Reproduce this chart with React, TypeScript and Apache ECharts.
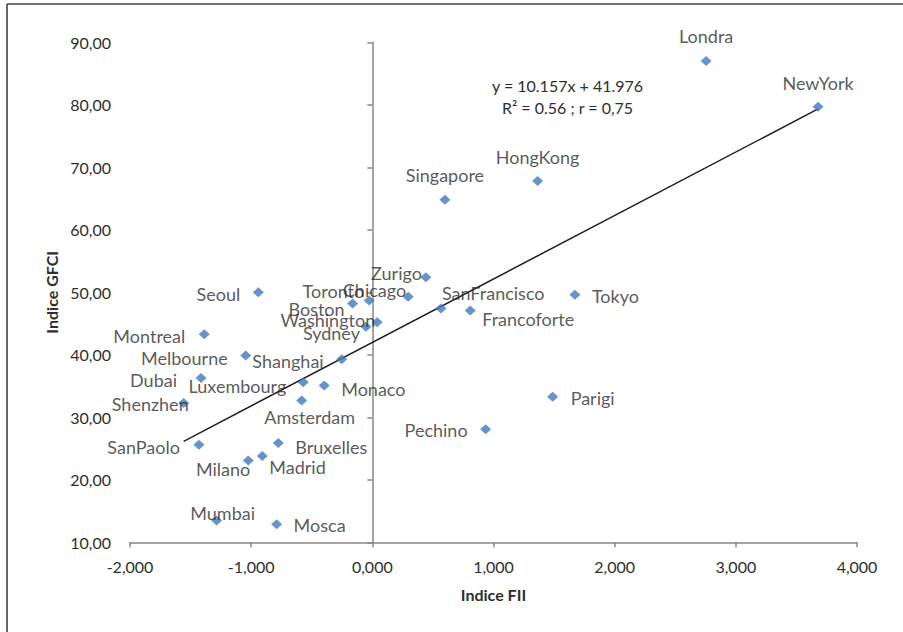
import React, { useEffect, useRef } from "react";
import * as echarts from "echarts";

const cities = [
  "Londra", "NewYork", "HongKong", "Singapore", "Zurigo", "Seoul", "Boston", "Toronto",
  "Chicago", "SanFrancisco", "Francoforte", "Tokyo", "Washington", "Sydney", "Montreal",
  "Melbourne", "Shanghai", "Dubai", "Luxembourg", "Monaco", "Amsterdam", "Shenzhen",
  "SanPaolo", "Bruxelles", "Milano", "Madrid", "Mumbai", "Mosca", "Parigi", "Pechino",
];
const fiiValues = [
  2.755, 3.679, 1.364, 0.599, 0.442, -0.941, -0.163, -0.026,
  0.296, 0.566, 0.808, 1.672, 0.040, -0.053, -1.387,
  -1.045, -0.253, -1.414, -0.570, -0.397, -0.583, -1.557,
  -1.431, -0.776, -1.024, -0.908, -1.285, -0.790, 1.488, 0.935,
];
const gfciValues = [
  87.0, 79.7, 67.8, 64.8, 52.4, 50.0, 48.2, 48.7,
  49.3, 47.4, 47.1, 49.6, 45.2, 44.5, 43.3,
  39.9, 39.3, 36.3, 35.6, 35.1, 32.7, 32.3,
  25.6, 25.9, 23.1, 23.8, 13.5, 12.9, 33.3, 28.1,
];
const trendSlope = 10.157;
const trendIntercept = 41.976;
const equationLines = ["y = 10.157x + 41.976", "R² = 0.56 ; r = 0,75"];
const xTitle = "Indice FII";
const yTitle = "Indice GFCI";

// label placement: [align, dx, dy] relative to the marker centre
const labelPlacement: Record<string, [string, number, number]> = {
  Londra: ["center", 0, -25],
  NewYork: ["center", 0, -24],
  HongKong: ["center", 0, -24],
  Singapore: ["center", 0, -25],
  Zurigo: ["right", -4, -4],
  Seoul: ["right", -18, 2],
  Boston: ["right", -8, 5],
  Toronto: ["right", -5, -9],
  Chicago: ["right", -2, -7],
  SanFrancisco: ["left", 1, -16],
  Francoforte: ["left", 12, 9],
  Tokyo: ["left", 17, 1],
  Washington: ["right", -2, -2],
  Sydney: ["right", -6, 6],
  Montreal: ["right", -19, 2],
  Melbourne: ["right", -18, 3],
  Shanghai: ["right", -18, 2],
  Dubai: ["right", -24, 2],
  Luxembourg: ["right", -17, 4],
  Monaco: ["left", 17, 4],
  Amsterdam: ["center", 8, 17],
  Shenzhen: ["right", 5, 1],
  SanPaolo: ["right", -19, 2],
  Bruxelles: ["left", 17, 4],
  Milano: ["right", 2, 9],
  Madrid: ["left", 7, 11],
  Mumbai: ["center", 6, -7],
  Mosca: ["left", 17, 1],
  Parigi: ["left", 18, 1],
  Pechino: ["right", -18, 1],
};

const FONT = "Lato";
const TEXT = "#2e2e2e";
const AXIS = "#878787";

export default function App() {
  const ref = useRef<HTMLDivElement>(null);
  useEffect(() => {
    if (!ref.current) return;
    const chart = echarts.init(ref.current, undefined, { renderer: "svg" });
    const xMin = Math.min(...fiiValues);
    const xMax = Math.max(...fiiValues);
    const points = cities.map((c, i) => {
      const p = labelPlacement[c] || ["center", 0, -20];
      return {
        name: c,
        value: [fiiValues[i], gfciValues[i]],
        label: { align: p[0], offset: [p[1], p[2]] },
      };
    });
    chart.setOption({
      animation: false,
      backgroundColor: "#ffffff",
      grid: { left: 130, right: 46, top: 42.3, bottom: 89.7, containLabel: false, outerBoundsMode: "none" },
      xAxis: {
        type: "value",
        min: -2,
        max: 4,
        interval: 1,
        name: xTitle,
        nameLocation: "middle",
        nameGap: 44,
        nameTextStyle: { fontFamily: FONT, fontSize: 16, fontWeight: "bold", color: TEXT },
        axisLine: { show: true, onZero: false, lineStyle: { color: AXIS, width: 1.5 } },
        axisTick: { show: true, length: 5, lineStyle: { color: AXIS, width: 1.5 } },
        axisLabel: {
          fontFamily: FONT, fontSize: 16, color: TEXT, margin: 16,
          formatter: (v: number) => v.toFixed(3).replace(".", ","),
        },
        splitLine: { show: false },
      },
      yAxis: [
        {
          type: "value",
          min: 10,
          max: 90,
          interval: 10,
          position: "left",
          name: yTitle,
          nameLocation: "middle",
          nameRotate: 90,
          nameGap: 69,
          nameTextStyle: { fontFamily: FONT, fontSize: 16, fontWeight: "bold", color: TEXT },
          axisLine: { show: false, onZero: false },
          axisTick: { show: false },
          axisLabel: {
            fontFamily: FONT, fontSize: 16, color: TEXT, margin: 19,
            formatter: (v: number) => v.toFixed(2).replace(".", ","),
          },
          splitLine: { show: false },
        },
        {
          type: "value",
          min: 10,
          max: 90,
          interval: 10,
          position: "right",
          axisLine: { show: true, onZero: true, lineStyle: { color: AXIS, width: 1.5 } },
          axisTick: { show: true, inside: true, length: 5, lineStyle: { color: AXIS, width: 1.5 } },
          axisLabel: { show: false },
          splitLine: { show: false },
        },
      ],
      series: [
        {
          type: "line",
          data: [
            [xMin, trendSlope * xMin + trendIntercept],
            [xMax, trendSlope * xMax + trendIntercept],
          ],
          symbol: "none",
          lineStyle: { color: "#1e1e1e", width: 1.5 },
          z: 1,
          silent: true,
        },
        {
          type: "scatter",
          data: points,
          symbol: "diamond",
          symbolSize: [11, 10],
          itemStyle: { color: "#4178BE" },
          z: 2,
          label: {
            show: true,
            position: "inside",
            formatter: "{b}",
            fontFamily: FONT,
            fontSize: 18,
            color: TEXT,
          },
        },
      ],
      graphic: [
        {
          type: "text",
          x: 567.5, y: 85,
          style: { text: equationLines[0], fontFamily: FONT, fontSize: 16, fill: TEXT, textAlign: "center", textVerticalAlign: "middle" },
        },
        {
          type: "text",
          x: 567.5, y: 107,
          style: { text: equationLines[1], fontFamily: FONT, fontSize: 16, fill: TEXT, textAlign: "center", textVerticalAlign: "middle" },
        },
        {
          type: "line",
          shape: { x1: 7, y1: 4, x2: 7, y2: 632 },
          style: { stroke: "#666666", lineWidth: 2 },
        },
        {
          type: "line",
          shape: { x1: 7, y1: 4, x2: 903, y2: 4 },
          style: { stroke: "#444444", lineWidth: 1.5 },
        },
      ],
    });
    return () => chart.dispose();
  }, []);
  return (
    <div
      ref={ref}
      style={{ position: "absolute", left: 0, top: 0, width: 903, height: 632, background: "#fff" }}
    />
  );
}
